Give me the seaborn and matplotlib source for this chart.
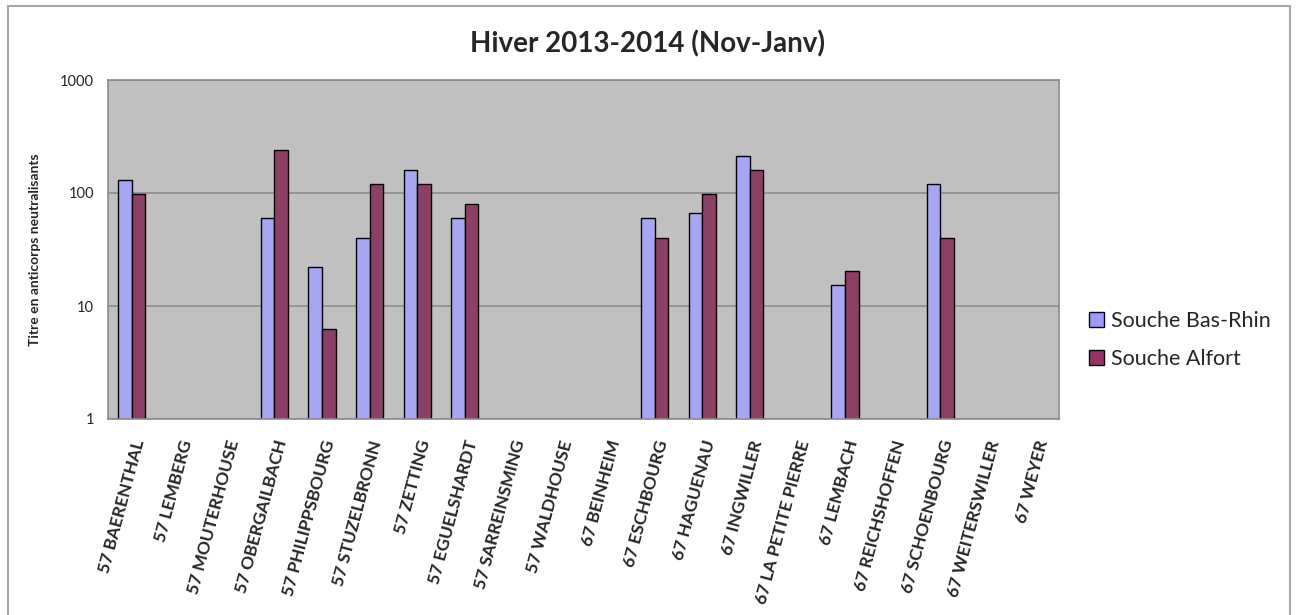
import matplotlib
matplotlib.use("Agg")
import matplotlib.pyplot as plt
from matplotlib.patches import Rectangle, Patch
import seaborn as sns
import pandas as pd
import numpy as np

# Données (NaN = pas de valeur)
communes = [
    "57 BAERENTHAL", "57 LEMBERG", "57 MOUTERHOUSE", "57 OBERGAILBACH",
    "57 PHILIPPSBOURG", "57 STUZELBRONN", "57 ZETTING", "57 EGUELSHARDT",
    "57 SARREINSMING", "57 WALDHOUSE", "67 BEINHEIM", "67 ESCHBOURG",
    "67 HAGUENAU", "67 INGWILLER", "67 LA PETITE PIERRE", "67 LEMBACH",
    "67 REICHSHOFFEN", "67 SCHOENBOURG", "67 WEITERSWILLER", "67 WEYER",
]
souche_bas_rhin = [130, np.nan, np.nan, 60, 22, 40, 160, 60, np.nan, np.nan,
                   np.nan, 60, 67, 212, np.nan, 15.3, np.nan, 120, np.nan, np.nan]
souche_alfort = [97, np.nan, np.nan, 240, 6.2, 120, 120, 80, np.nan, np.nan,
                 np.nan, 40, 97, 160, np.nan, 20.5, np.nan, 40, np.nan, np.nan]
series = ["Souche Bas-Rhin", "Souche Alfort"]
couleurs = ["#9999FF", "#993366"]

df = pd.DataFrame({"commune": communes,
                   series[0]: souche_bas_rhin,
                   series[1]: souche_alfort})
df_long = df.melt(id_vars="commune", var_name="souche", value_name="titre").dropna()

sns.set_style("white")
plt.rcParams["font.family"] = ["Lato", "DejaVu Sans"]

fig = plt.figure(figsize=(12.96, 6.15), dpi=100)
ax = fig.add_axes([108 / 1296, 1 - 419 / 615, (1059 - 108) / 1296, (419 - 80) / 615])

sns.barplot(data=df_long, x="commune", y="titre", hue="souche",
            order=communes, hue_order=series, palette=couleurs,
            width=0.57, edgecolor="black", linewidth=1.0,
            legend=False, ax=ax)

ax.set_yscale("log")
ax.set_ylim(1, 1000)
ax.set_xlim(-0.5, len(communes) - 0.5)
ax.set_facecolor("#C0C0C0")
ax.set_yticks([1, 10, 100, 1000])
ax.set_yticklabels(["1", "10", "100", "1000"], fontsize=10.5)
ax.minorticks_off()
ax.yaxis.grid(True, color="#8C8C8C", linewidth=1.2)
ax.set_axisbelow(True)
ax.tick_params(axis="both", length=0, pad=10)
for s in ax.spines.values():
    s.set_color("#8C8C8C")
    s.set_linewidth(1.2)

ax.set_xlabel("")
ax.set_ylabel("Titre en anticorps neutralisants", fontsize=10,
              fontweight="bold", labelpad=14)
ax.set_xticks(range(len(communes)))
ax.set_xticklabels(communes, rotation=75, ha="right", rotation_mode="anchor",
                   fontsize=12.5, fontweight="bold")
ax.tick_params(axis="x", pad=14)

fig.text(0.500, 0.928, "Hiver 2013-2014 (Nov-Janv)", ha="center", va="center",
         fontsize=20, fontweight="bold")

handles = [Patch(facecolor=c, edgecolor="black", linewidth=1.0) for c in couleurs]
fig.legend(handles, series, loc="center left", bbox_to_anchor=(1070 / 1296, 1 - 340 / 615),
           frameon=False, fontsize=15.5, handlelength=0.7, handleheight=0.7,
           handletextpad=0.3, labelspacing=0.85)

# cadre extérieur du graphique
fig.patches.append(Rectangle((8 / 1296, -0.05), (1290 - 8) / 1296, 1.05 - 6 / 615,
                             transform=fig.transFigure, fill=False,
                             edgecolor="#A6A6A6", linewidth=1.5))

fig.savefig("out.png", dpi=100)
plt.close(fig)
